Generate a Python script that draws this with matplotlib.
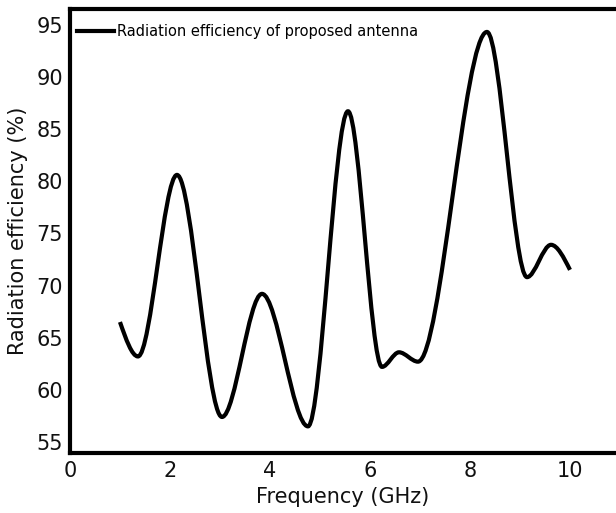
import matplotlib
matplotlib.use("Agg")
import matplotlib.pyplot as plt
from matplotlib.path import Path
from matplotlib.patches import PathPatch
from matplotlib.lines import Line2D

# Turning points of the measured radiation efficiency curve
freq_ghz = [1.00, 1.36, 2.14, 3.04, 3.84, 4.76, 5.56, 6.24, 6.58, 6.96, 8.34, 9.14, 9.62, 10.00]
efficiency_pct = [66.5, 63.2, 80.6, 57.4, 69.2, 56.5, 86.7, 62.2, 63.6, 62.7, 94.3, 70.8, 73.9, 71.5]

x_ticks = [0, 2, 4, 6, 8, 10]
y_ticks = [55, 60, 65, 70, 75, 80, 85, 90, 95]

series_label = "Radiation efficiency of proposed antenna"

plt.rcParams["font.family"] = ["DejaVu Sans"]

fig = plt.figure(figsize=(6.16, 5.13), dpi=100)
ax = fig.add_axes([0.1136, 0.117, 0.8864, 0.8655])


def smooth_path(xs, ys):
    """Cubic Bezier path with flat tangents at interior turning points."""
    verts = [(xs[0], ys[0])]
    codes = [Path.MOVETO]
    n = len(xs)
    for i in range(n - 1):
        x0, y0, x1, y1 = xs[i], ys[i], xs[i + 1], ys[i + 1]
        dx = x1 - x0
        sec = (y1 - y0) / dx
        s0 = 1.5 * sec if i == 0 else 0.0
        s1 = 1.5 * sec if i == n - 2 else 0.0
        verts += [(x0 + dx / 3, y0 + s0 * dx / 3),
                  (x1 - dx / 3, y1 - s1 * dx / 3),
                  (x1, y1)]
        codes += [Path.CURVE4] * 3
    return Path(verts, codes)


curve = PathPatch(smooth_path(freq_ghz, efficiency_pct), facecolor="none",
                  edgecolor="black", lw=3.0, joinstyle="round", capstyle="butt")
ax.add_patch(curve)

ax.set_xlim(0, 10.92)
ax.set_ylim(53.95, 96.5)
ax.set_xticks(x_ticks)
ax.set_yticks(y_ticks)
ax.tick_params(axis="x", length=0, labelsize=15, pad=6, colors="#111111")
ax.tick_params(axis="y", length=0, labelsize=15, pad=5, colors="#111111")

for side in ("left", "bottom", "top"):
    ax.spines[side].set_linewidth(3.0)
ax.spines["right"].set_visible(False)

ax.set_xlabel("Frequency (GHz)", fontsize=15, labelpad=4, color="#111111")
ax.set_ylabel("Radiation efficiency (%)", fontsize=15, labelpad=6, color="#111111")

handle = Line2D([], [], color="black", lw=3.0)
ax.legend([handle], [series_label], loc="upper left", bbox_to_anchor=(0.012, 0.966),
          frameon=False, fontsize=10.5, handlelength=2.6, handletextpad=0.2,
          borderpad=0, borderaxespad=0)

fig.savefig("out.png", dpi=100)
